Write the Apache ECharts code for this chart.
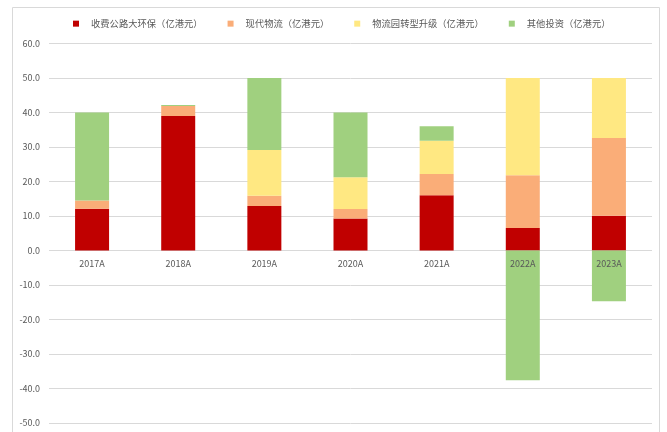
<!DOCTYPE html>
<html>
<head>
<meta charset="utf-8">
<script src="https://cdn.jsdelivr.net/npm/echarts@6/dist/echarts.min.js"></script>
<style>
  html, body { margin: 0; padding: 0; background: #fff; }
  #chart { width: 667px; height: 432px; }
</style>
</head>
<body>
<div id="chart"></div>
<script>
// Investment by segment, 100 million HKD
const years = ['2017A', '2018A', '2019A', '2020A', '2021A', '2022A', '2023A'];
const seriesNames = ['收费公路大环保（亿港元）', '现代物流（亿港元）', '物流园转型升级（亿港元）', '其他投资（亿港元）'];
const tollRoadEnv = [12.1, 39.0, 12.9, 9.3, 16.0, 6.5, 10.1];
const modernLogistics = [2.4, 2.9, 3.0, 2.7, 6.2, 15.3, 22.5];
const parkUpgrade = [0, 0, 13.2, 9.2, 9.6, 28.2, 17.4];
const otherInvest = [25.5, 0.3, 20.9, 18.8, 4.2, -37.6, -14.7];
const yTicks = { min: -50, max: 60, interval: 10 };

const colors = ['#C00000', '#FAAD78', '#FFE882', '#A0D07F'];
const values = [tollRoadEnv, modernLogistics, parkUpgrade, otherInvest];

const W = 667, H = 432;
const gridTop = 43.5, gridBottom = 9;
// distance from the bottom of the plot to the zero line, so category labels sit under 0
const plotH = H - gridTop - gridBottom;
const zeroLift = plotH * (0 - yTicks.min) / (yTicks.max - yTicks.min);

const chart = echarts.init(document.getElementById('chart'));
chart.setOption({
  animation: false,
  color: colors,
  textStyle: { fontFamily: '"Noto Sans CJK SC", "Noto Sans", sans-serif' },
  graphic: [{
    type: 'rect',
    shape: { x: 12.5, y: 7.5, width: 647, height: 440 },
    style: { fill: 'none', stroke: '#d9d9d9', lineWidth: 1 },
    silent: true
  }],
  legend: {
    top: 14,
    left: 68,
    icon: 'rect',
    itemWidth: 6,
    itemHeight: 6,
    itemGap: 25,
    textStyle: { fontSize: 9.3, color: '#595959', padding: [0, 0, 0, 7] },
    data: seriesNames
  },
  grid: { left: 49, right: 15, top: gridTop, bottom: gridBottom },
  xAxis: {
    type: 'category',
    data: years,
    z: 5,
    offset: -zeroLift,
    axisLine: { show: false, onZero: false },
    axisTick: { show: false },
    axisLabel: { fontSize: 9, color: '#595959', margin: 9 }
  },
  yAxis: {
    type: 'value',
    min: yTicks.min,
    max: yTicks.max,
    interval: yTicks.interval,
    axisLine: { show: false },
    axisTick: { show: false },
    axisLabel: {
      fontSize: 9,
      color: '#595959',
      margin: 9,
      formatter: v => v.toFixed(1)
    },
    splitLine: { lineStyle: { color: '#d9d9d9', width: 1 } }
  },
  series: seriesNames.map((name, i) => ({
    name: name,
    type: 'bar',
    stack: 'total',
    barWidth: 34,
    data: values[i],
    itemStyle: { color: colors[i] }
  }))
});
</script>
</body>
</html>
